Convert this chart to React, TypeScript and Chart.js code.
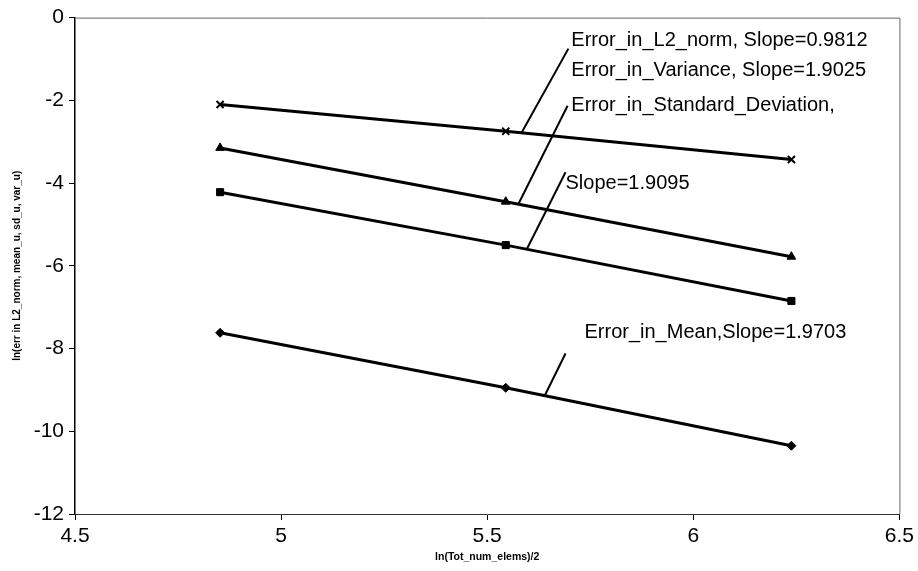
import React, { useEffect, useRef } from "react";
import { Chart, registerables } from "chart.js";

Chart.register(...registerables);

// x = ln(Tot_num_elems)/2
const xValues = [4.852, 5.545, 6.238];
const l2Norm = [-2.1, -2.75, -3.43];
const variance = [-3.15, -4.45, -5.78];
const stdDev = [-4.22, -5.5, -6.85];
const meanErr = [-7.62, -8.95, -10.35];

const xTicks = [4.5, 5, 5.5, 6, 6.5];
const yTicks = [0, -2, -4, -6, -8, -10, -12];

const seriesNames = ["Error_in_L2_norm", "Error_in_Variance", "Error_in_Standard_Deviation", "Error_in_Mean"];

// annotation labels: [text, textX, textY] in data coordinates
const labelTexts = [
  "Error_in_L2_norm, Slope=0.9812",
  "Error_in_Variance, Slope=1.9025",
  "Error_in_Standard_Deviation,",
  "Slope=1.9095",
  "Error_in_Mean,Slope=1.9703",
];
const labelX = [5.704, 5.704, 5.704, 5.69, 5.736];
const labelY = [-0.56, -1.28, -2.13, -4.0, -7.62];

// leader lines: from (x1,y1) to (x2,y2) in data coordinates
const leaderX1 = [5.697, 5.695, 5.69, 5.69];
const leaderY1 = [-0.75, -2.13, -3.74, -8.12];
const leaderX2 = [5.583, 5.576, 5.596, 5.64];
const leaderY2 = [-2.79, -4.5, -5.6, -9.13];

const FONT = "'Liberation Sans', Arial, sans-serif";

const pts = (ys: number[]) => xValues.map((x, i) => ({ x, y: ys[i] }));

const decorPlugin = {
  id: "decor",
  afterDatasetsDraw(chart: any) {
    const { ctx, chartArea, scales } = chart;
    const xs = scales.x;
    const ys = scales.y;
    ctx.save();
    // plot area frame (top and right)
    ctx.strokeStyle = "#666";
    ctx.lineWidth = 1;
    ctx.beginPath();
    ctx.moveTo(chartArea.left, chartArea.top + 0.5);
    ctx.lineTo(chartArea.right + 0.5, chartArea.top + 0.5);
    ctx.lineTo(chartArea.right + 0.5, chartArea.bottom);
    ctx.stroke();

    // leader lines
    ctx.strokeStyle = "#000";
    ctx.lineWidth = 2;
    for (let i = 0; i < leaderX1.length; i++) {
      ctx.beginPath();
      ctx.moveTo(xs.getPixelForValue(leaderX1[i]), ys.getPixelForValue(leaderY1[i]));
      ctx.lineTo(xs.getPixelForValue(leaderX2[i]), ys.getPixelForValue(leaderY2[i]));
      ctx.stroke();
    }

    // labels
    ctx.fillStyle = "#000";
    ctx.font = `20px ${FONT}`;
    ctx.textAlign = "left";
    ctx.textBaseline = "middle";
    for (let i = 0; i < labelTexts.length; i++) {
      ctx.fillText(labelTexts[i], xs.getPixelForValue(labelX[i]), ys.getPixelForValue(labelY[i]));
    }
    ctx.restore();
  },
};

export default function App() {
  const canvasRef = useRef<HTMLCanvasElement | null>(null);

  useEffect(() => {
    const canvas = canvasRef.current;
    if (!canvas) return;
    const common = {
      borderColor: "#000",
      backgroundColor: "#000",
      borderWidth: 3,
      pointBorderColor: "#000",
      pointBackgroundColor: "#000",
      pointBorderWidth: 1,
      tension: 0,
      showLine: true,
    };
    const chart = new Chart(canvas, {
      type: "scatter",
      data: {
        datasets: [
          { ...common, label: seriesNames[0], data: pts(l2Norm), pointStyle: "crossRot", pointRadius: 5, pointBorderWidth: 2 },
          { ...common, label: seriesNames[1], data: pts(variance), pointStyle: "triangle", pointRadius: 5 },
          { ...common, label: seriesNames[2], data: pts(stdDev), pointStyle: "rect", pointRadius: 5 },
          { ...common, label: seriesNames[3], data: pts(meanErr), pointStyle: "rectRot", pointRadius: 4.5 },
        ],
      },
      options: {
        responsive: false,
        animation: false,
        layout: { padding: { top: 17, right: 16, left: 0, bottom: 0 } },
        plugins: {
          legend: { display: false },
          tooltip: { enabled: false },
        },
        scales: {
          x: {
            type: "linear",
            min: 4.5,
            max: 6.5,
            afterBuildTicks: (scale: any) => {
              scale.ticks = xTicks.map((v) => ({ value: v }));
            },
            afterFit: (scale: any) => {
              scale.height = 57;
            },
            ticks: {
              color: "#000",
              font: { family: FONT, size: 21 },
              padding: 4,
              maxRotation: 0,
              callback: (v: any) => String(v),
            },
            grid: { display: true, drawOnChartArea: false, drawTicks: true, tickLength: 6, color: "#000" },
            border: { display: true, color: "#333", width: 1 },
            title: {
              display: true,
              text: "ln(Tot_num_elems)/2",
              color: "#000",
              font: { family: FONT, size: 10.5, weight: "bold" },
              padding: { top: 0, bottom: 8 },
            },
          },
          y: {
            type: "linear",
            min: -12,
            max: 0,
            afterBuildTicks: (scale: any) => {
              scale.ticks = yTicks.map((v) => ({ value: v }));
            },
            afterFit: (scale: any) => {
              scale.width = 75;
            },
            ticks: {
              color: "#000",
              font: { family: FONT, size: 21 },
              padding: 5,
              callback: (v: any) => String(v),
            },
            grid: { display: true, drawOnChartArea: false, drawTicks: true, tickLength: 6, color: "#000" },
            border: { display: true, color: "#000", width: 1.5 },
            title: {
              display: true,
              text: "ln(err in L2_norm, mean_u, sd_u, var_u)",
              color: "#000",
              font: { family: FONT, size: 10, weight: "bold" },
              padding: { top: 11, bottom: 0 },
            },
          },
        },
      },
      plugins: [decorPlugin],
    } as any);
    return () => chart.destroy();
  }, []);

  return (
    <div style={{ position: "fixed", left: 0, top: 0, width: 918, height: 571, background: "#fff" }}>
      <canvas ref={canvasRef} width={918} height={571} />
    </div>
  );
}
